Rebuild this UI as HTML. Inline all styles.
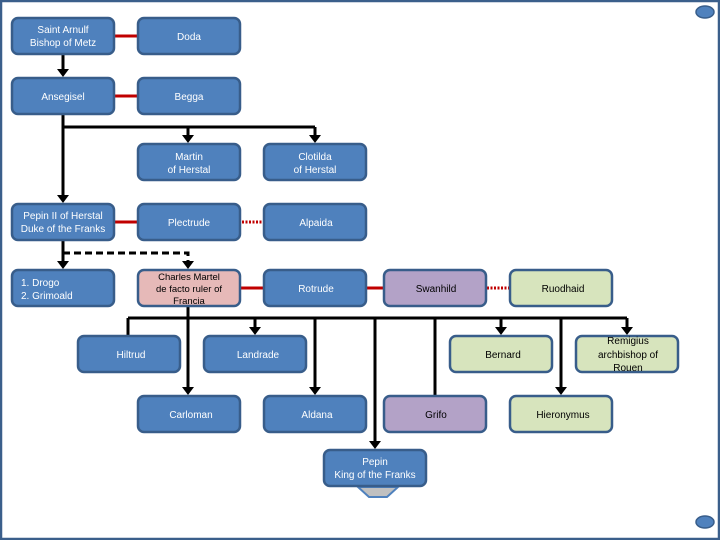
<!DOCTYPE html>
<html><head><meta charset="utf-8"><style>
html,body{margin:0;padding:0;background:#fff}
svg{display:block}
text{font-family:"Liberation Sans",sans-serif;font-size:10px;text-anchor:middle}
.b{fill:#4f81bd;stroke:#385d8a;stroke-width:2.5}
.p{fill:#e6b9b8;stroke:#385d8a;stroke-width:2.5}
.v{fill:#b3a2c7;stroke:#385d8a;stroke-width:2.5}
.g{fill:#d7e4bd;stroke:#385d8a;stroke-width:2.5}
.w{fill:#fff}
.k{fill:#000}
.l{stroke:#000;stroke-width:3;fill:none}
.r{stroke:#c00000;stroke-width:3}
.rd{stroke:#c00000;stroke-width:3;stroke-dasharray:2 1.5}
</style></head><body>
<svg width="720" height="540" viewBox="0 0 720 540">
<defs><marker id="a" markerWidth="4" markerHeight="4" refX="2" refY="3" orient="auto" markerUnits="userSpaceOnUse" viewBox="0 0 4 4"></marker></defs>
<rect x="1" y="1" width="718" height="538" fill="none" stroke="#3b5f8b" stroke-width="2.5"/>
<ellipse cx="705" cy="12" rx="9" ry="6" fill="#4f81bd" stroke="#385d8a" stroke-width="1.5"/>
<ellipse cx="705" cy="522" rx="9" ry="6" fill="#4f81bd" stroke="#385d8a" stroke-width="1.5"/>

<!-- connectors -->
<g class="l">
<path d="M63 54V72"/>
<path d="M63 114V198"/>
<path d="M63 127H315M188 127V138M315 127V138"/>
<path d="M63 240V264"/>
<path d="M63 253H188V264" stroke-dasharray="7 4"/>
<path d="M128 318H627"/>
<path d="M128 318V336M255 318V330M315 318V390M375 318V444M435 318V396M501 318V330M561 318V390M627 318V330"/>
<path d="M188 306V390"/>
</g>
<g class="k">
<path d="M57 69h12l-6 8z"/>
<path d="M57 195h12l-6 8z"/>
<path d="M182 135h12l-6 8z"/>
<path d="M309 135h12l-6 8z"/>
<path d="M57 261h12l-6 8z"/>
<path d="M182 261h12l-6 8z"/>
<path d="M249 327h12l-6 8z"/>
<path d="M495 327h12l-6 8z"/>
<path d="M621 327h12l-6 8z"/>
<path d="M182 387h12l-6 8z"/>
<path d="M309 387h12l-6 8z"/>
<path d="M555 387h12l-6 8z"/>
<path d="M369 441h12l-6 8z"/>
</g>
<line class="r" x1="114" y1="36" x2="138" y2="36"/>
<line class="r" x1="114" y1="96" x2="138" y2="96"/>
<line class="r" x1="114" y1="222" x2="138" y2="222"/>
<line class="rd" x1="242" y1="222" x2="262" y2="222"/>
<line class="r" x1="240" y1="288" x2="264" y2="288"/>
<line class="r" x1="366" y1="288" x2="384" y2="288"/>
<line class="rd" x1="487" y1="288" x2="509" y2="288"/>

<!-- boxes -->
<rect class="b" x="12" y="18" width="102" height="36" rx="6"/>
<text class="w" x="63" y="33">Saint  Arnulf</text><text class="w" x="63" y="46">Bishop of Metz</text>
<rect class="b" x="138" y="18" width="102" height="36" rx="6"/>
<text class="w" x="189" y="40">Doda</text>
<rect class="b" x="12" y="78" width="102" height="36" rx="6"/>
<text class="w" x="63" y="100">Ansegisel</text>
<rect class="b" x="138" y="78" width="102" height="36" rx="6"/>
<text class="w" x="189" y="100">Begga</text>
<rect class="b" x="138" y="144" width="102" height="36" rx="6"/>
<text class="w" x="189" y="160">Martin</text><text class="w" x="189" y="173">of Herstal</text>
<rect class="b" x="264" y="144" width="102" height="36" rx="6"/>
<text class="w" x="315" y="160">Clotilda</text><text class="w" x="315" y="173">of Herstal</text>
<rect class="b" x="12" y="204" width="102" height="36" rx="6"/>
<text class="w" x="63" y="219">Pepin II of Herstal</text><text class="w" x="63" y="232">Duke of the Franks</text>
<rect class="b" x="138" y="204" width="102" height="36" rx="6"/>
<text class="w" x="189" y="226">Plectrude</text>
<rect class="b" x="264" y="204" width="102" height="36" rx="6"/>
<text class="w" x="316" y="226">Alpaida</text>
<rect class="b" x="12" y="270" width="102" height="36" rx="6"/>
<text class="w" x="21" y="286" style="text-anchor:start">1.   Drogo</text><text class="w" x="21" y="299" style="text-anchor:start">2.   Grimoald</text>
<rect class="p" x="138" y="270" width="102" height="36" rx="6"/>
<text x="189" y="280" style="font-size:9.5px">Charles Martel</text><text x="189" y="292" style="font-size:9.5px">de facto ruler of</text><text x="189" y="304" style="font-size:9.5px">Francia</text>
<rect class="b" x="264" y="270" width="102" height="36" rx="6"/>
<text class="w" x="316" y="292">Rotrude</text>
<rect class="v" x="384" y="270" width="102" height="36" rx="6"/>
<text x="436" y="292">Swanhild</text>
<rect class="g" x="510" y="270" width="102" height="36" rx="6"/>
<text x="563" y="292">Ruodhaid</text>
<rect class="b" x="78" y="336" width="102" height="36" rx="6"/>
<text class="w" x="131" y="358">Hiltrud</text>
<rect class="b" x="204" y="336" width="102" height="36" rx="6"/>
<text class="w" x="258" y="358">Landrade</text>
<rect class="g" x="450" y="336" width="102" height="36" rx="6"/>
<text x="503" y="358">Bernard</text>
<rect class="g" x="576" y="336" width="102" height="36" rx="6"/>
<text x="628" y="344">Remigius</text><text x="628" y="358">archbishop of</text><text x="628" y="371">Rouen</text>
<rect class="b" x="138" y="396" width="102" height="36" rx="6"/>
<text class="w" x="191" y="418">Carloman</text>
<rect class="b" x="264" y="396" width="102" height="36" rx="6"/>
<text class="w" x="317" y="418">Aldana</text>
<rect class="v" x="384" y="396" width="102" height="36" rx="6"/>
<text x="436" y="418">Grifo</text>
<rect class="g" x="510" y="396" width="102" height="36" rx="6"/>
<text x="563" y="418">Hieronymus</text>
<path d="M358 487H398L387 497H369Z" fill="#c0c0c0" stroke="#4f81bd" stroke-width="2"/>
<rect class="b" x="324" y="450" width="102" height="36" rx="6"/>
<text class="w" x="375" y="465">Pepin</text><text class="w" x="375" y="478">King of the Franks</text>
</svg>
</body></html>
